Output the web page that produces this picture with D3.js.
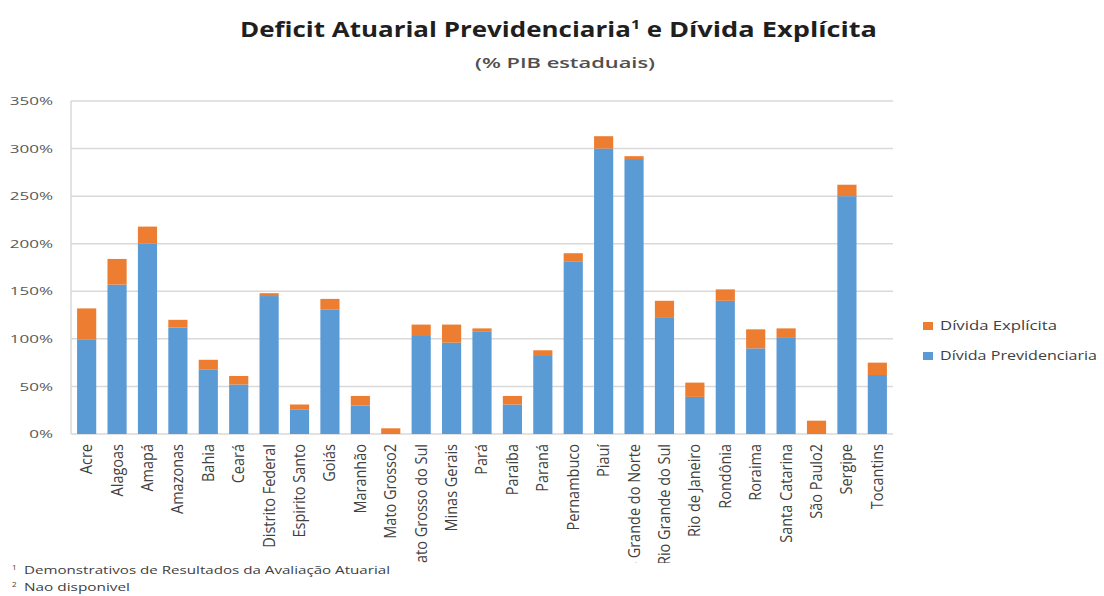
<!DOCTYPE html>
<html>
<head>
<meta charset="utf-8">
<script src="https://cdn.jsdelivr.net/npm/d3@7"></script>
<style>
  body { margin: 0; background: #fff; }
  svg text { font-family: "Open Sans", "Noto Sans", sans-serif; }
</style>
</head>
<body>
<svg id="chart" width="1104" height="596"></svg>
<script>
// categories (states) and values, % of state GDP
const states = ['Acre', 'Alagoas', 'Amapá', 'Amazonas', 'Bahia', 'Ceará', 'Distrito Federal',
  'Espirito Santo', 'Goiás', 'Maranhão', 'Mato Grosso2', 'Mato Grosso do Sul', 'Minas Gerais',
  'Pará', 'Paraíba', 'Paraná', 'Pernambuco', 'Piauí', 'Rio Grande do Norte', 'Rio Grande do Sul',
  'Rio de Janeiro', 'Rondônia', 'Roraima', 'Santa Catarina', 'São Paulo2', 'Sergipe', 'Tocantins'];
const previdenciaria = [99, 157, 200, 112, 68, 52, 145, 26, 131, 30, 0, 103, 96,
  108, 31, 82, 181, 300, 289, 122, 39, 140, 90, 101, 0, 250, 62];
const explicita = [33, 27, 18, 8, 10, 9, 3, 5, 11, 10, 6, 12, 19,
  3, 9, 6, 9, 13, 3, 18, 15, 12, 20, 10, 14, 12, 13];
const yTicks = [0, 50, 100, 150, 200, 250, 300, 350];

const svg = d3.select('#chart');
const plot = { left: 71, right: 893, top: 101, bottom: 434 };

const x = d3.scaleBand().domain(states).range([plot.left, plot.right]).paddingInner(0.37).paddingOuter(0.2);
const y = d3.scaleLinear().domain([0, 350]).range([plot.bottom, plot.top]);

// title (the original text is wide, so stretch it to the same width)
svg.append('text')
  .attr('x', 240).attr('y', 37)
  .attr('textLength', 637).attr('lengthAdjust', 'spacingAndGlyphs')
  .attr('font-size', 21).attr('font-weight', 700).attr('fill', '#1f1f1f')
  .html('Deficit Atuarial Previdenciaria<tspan font-size="13" dy="-8">1</tspan><tspan dy="8"> e </tspan><tspan font-size="22">Dívida Explícita</tspan>');

svg.append('text')
  .attr('x', 475).attr('y', 68)
  .attr('textLength', 180).attr('lengthAdjust', 'spacingAndGlyphs')
  .attr('font-size', 15).attr('font-weight', 600).attr('fill', '#505050')
  .text('(% PIB estaduais)');

// gridlines
svg.append('g')
  .selectAll('line')
  .data(yTicks)
  .join('line')
  .attr('x1', plot.left).attr('x2', plot.right)
  .attr('y1', d => y(d)).attr('y2', d => y(d))
  .attr('stroke', '#d9d9d9').attr('stroke-width', 1.5);

// left axis line
svg.append('line')
  .attr('x1', plot.left).attr('x2', plot.left).attr('y1', plot.top).attr('y2', plot.bottom)
  .attr('stroke', '#d9d9d9').attr('stroke-width', 1.5);

// y axis labels
const yAxis = svg.append('g')
  .attr('transform', 'translate(53, 0)')
  .call(d3.axisLeft(y).tickValues(yTicks).tickSize(0).tickFormat(d => d + '%'));
yAxis.select('.domain').remove();
yAxis.selectAll('text')
  .attr('x', 0)
  .attr('font-size', 11.5).attr('fill', '#595959')
  .style('font-family', '"Open Sans", sans-serif')
  .attr('transform', 'scale(1.48,1)');

// stacked bars
const bars = svg.append('g');
bars.selectAll('rect.prev')
  .data(states)
  .join('rect')
  .attr('class', 'prev')
  .attr('x', d => x(d))
  .attr('width', x.bandwidth())
  .attr('y', (d, i) => y(previdenciaria[i]))
  .attr('height', (d, i) => y(0) - y(previdenciaria[i]))
  .attr('fill', '#5b9bd5');

bars.selectAll('rect.expl')
  .data(states)
  .join('rect')
  .attr('class', 'expl')
  .attr('x', d => x(d))
  .attr('width', x.bandwidth())
  .attr('y', (d, i) => y(previdenciaria[i] + explicita[i]))
  .attr('height', (d, i) => y(previdenciaria[i]) - y(previdenciaria[i] + explicita[i]))
  .attr('fill', '#ed7d31');

// x axis labels, rotated; long ones are clipped at the bottom like in the original
svg.append('clipPath').attr('id', 'xclip')
  .append('rect').attr('x', 0).attr('y', 0).attr('width', 1104).attr('height', 129);

const xAxis = svg.append('g')
  .attr('transform', `translate(0, ${plot.bottom})`)
  .attr('clip-path', 'url(#xclip)')
  .call(d3.axisBottom(x).tickSize(0));
xAxis.select('.domain').remove();
xAxis.selectAll('text')
  .attr('font-size', 14.5).attr('fill', '#404040')
  .style('font-family', '"Open Sans", sans-serif')
  .attr('text-anchor', 'end')
  .attr('transform', 'scale(1.08,1) rotate(-90)')
  .attr('x', -10).attr('y', 0).attr('dy', '0.35em');

// legend
const legend = [
  { name: 'Dívida Explícita', color: '#ed7d31', w: 117 },
  { name: 'Dívida Previdenciaria', color: '#5b9bd5', w: 157 }
];
const lg = svg.append('g').attr('transform', 'translate(923, 322)');
lg.selectAll('rect')
  .data(legend)
  .join('rect')
  .attr('x', 0).attr('y', (d, i) => i * 30)
  .attr('width', 10).attr('height', 8)
  .attr('fill', d => d.color);
lg.selectAll('text')
  .data(legend)
  .join('text')
  .attr('x', 17).attr('y', (d, i) => i * 30 + 8)
  .attr('textLength', d => d.w).attr('lengthAdjust', 'spacingAndGlyphs')
  .attr('font-size', 12).attr('fill', '#404040')
  .text(d => d.name);

// footnotes
const notes = svg.append('g').attr('font-size', 10).attr('fill', '#404040');
notes.append('text').attr('x', 12).attr('y', 574)
  .text('1').attr('font-size', 8).attr('dy', -4);
notes.append('text').attr('x', 24).attr('y', 574)
  .attr('textLength', 366).attr('lengthAdjust', 'spacingAndGlyphs')
  .text('Demonstrativos de Resultados da Avaliação Atuarial');
notes.append('text').attr('x', 12).attr('y', 591)
  .text('2').attr('font-size', 8).attr('dy', -4);
notes.append('text').attr('x', 24).attr('y', 591)
  .attr('textLength', 106).attr('lengthAdjust', 'spacingAndGlyphs')
  .text('Nao disponivel');
</script>
</body>
</html>
